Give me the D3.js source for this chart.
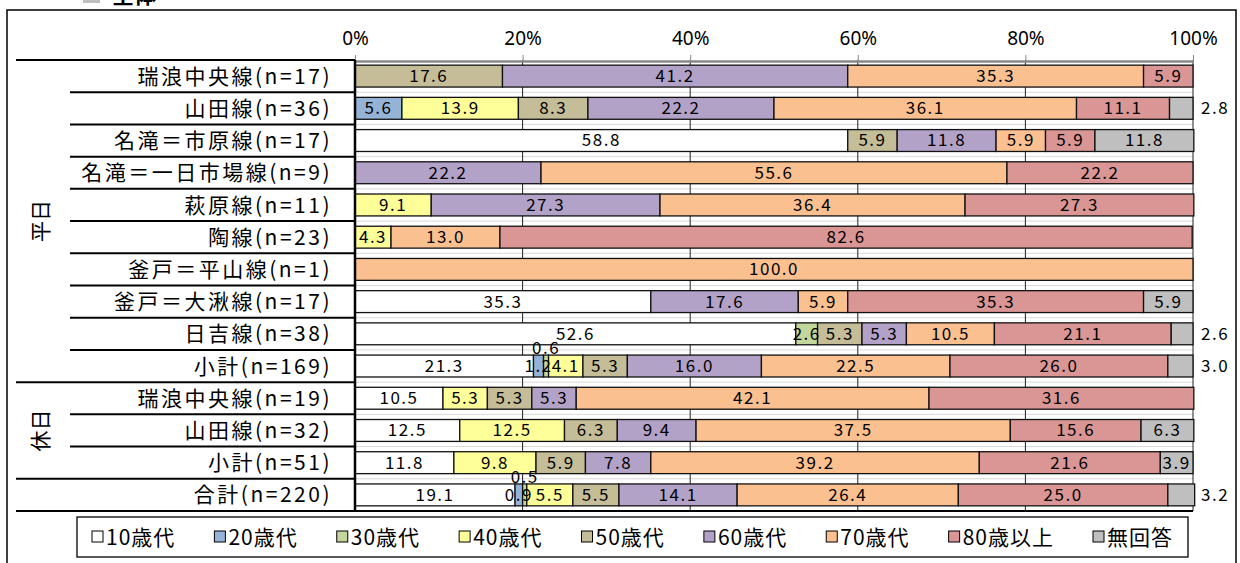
<!DOCTYPE html>
<html>
<head>
<meta charset="utf-8">
<script src="https://cdn.jsdelivr.net/npm/d3@7"></script>
<style>
  body { margin: 0; background: #fff; }
  svg { display: block; font-family: "Noto Sans CJK JP", "Noto Sans", sans-serif; }
</style>
</head>
<body>
<div id="chart"></div>
<script>

// age groups (stack order) and their fills
const ageGroups = ['10歳代', '20歳代', '30歳代', '40歳代', '50歳代', '60歳代', '70歳代', '80歳以上', '無回答'];
const ageColors = ['#ffffff', '#95b3d7', '#c3d69b', '#ffff99', '#c4bd97', '#b3a2c7', '#fac090', '#d99694', '#bfbfbf'];

const routeLabels = [
  '瑞浪中央線(n=17)', '山田線(n=36)', '名滝＝市原線(n=17)', '名滝＝一日市場線(n=9)', '萩原線(n=11)',
  '陶線(n=23)', '釜戸＝平山線(n=1)', '釜戸＝大湫線(n=17)', '日吉線(n=38)', '小計(n=169)',
  '瑞浪中央線(n=19)', '山田線(n=32)', '小計(n=51)', '合計(n=220)'
];
const dayTypes = ['平日', '平日', '平日', '平日', '平日', '平日', '平日', '平日', '平日', '平日', '休日', '休日', '休日', ''];

// % per age group, same order as ageGroups
const shares = [
  [0, 0, 0, 0, 17.6, 41.2, 35.3, 5.9, 0],
  [0, 5.6, 0, 13.9, 8.3, 22.2, 36.1, 11.1, 2.8],
  [58.8, 0, 0, 0, 5.9, 11.8, 5.9, 5.9, 11.8],
  [0, 0, 0, 0, 0, 22.2, 55.6, 22.2, 0],
  [0, 0, 0, 9.1, 0, 27.3, 36.4, 27.3, 0],
  [0, 0, 0, 4.3, 0, 0, 13.0, 82.6, 0],
  [0, 0, 0, 0, 0, 0, 100.0, 0, 0],
  [35.3, 0, 0, 0, 0, 17.6, 5.9, 35.3, 5.9],
  [52.6, 0, 2.6, 0, 5.3, 5.3, 10.5, 21.1, 2.6],
  [21.3, 1.2, 0.6, 4.1, 5.3, 16.0, 22.5, 26.0, 3.0],
  [10.5, 0, 0, 5.3, 5.3, 5.3, 42.1, 31.6, 0],
  [12.5, 0, 0, 12.5, 6.3, 9.4, 37.5, 15.6, 6.3],
  [11.8, 0, 0, 9.8, 5.9, 7.8, 39.2, 21.6, 3.9],
  [19.1, 0.9, 0.5, 5.5, 5.5, 14.1, 26.4, 25.0, 3.2]
];

const tickValues = [0, 20, 40, 60, 80, 100];

const W = 1240,
      H = 563;

const PLOT = { left: 355, right: 1193, top: 60, bottom: 511 };

const svg = d3.select('#chart').append('svg')
  .attr('width', W)
  .attr('height', H);

const x = d3.scaleLinear()
  .domain([0, 100])
  .range([PLOT.left, PLOT.right]);

const y = d3.scaleBand()
  .domain(d3.range(routeLabels.length))
  .range([PLOT.top, PLOT.bottom]);

const barH = y.bandwidth() * 0.68;
const fmt = d3.format('.1f');

// outer frame + cut-off heading
svg.append('rect')
  .attr('x', 7).attr('y', 10)
  .attr('width', 1229).attr('height', H)
  .attr('fill', 'none').attr('stroke', '#000').attr('stroke-width', 1.5);

svg.append('rect')
  .attr('x', 83).attr('y', -12).attr('width', 17).attr('height', 15)
  .attr('fill', '#bfbfbf');
svg.append('text')
  .attr('x', 112).attr('y', 3)
  .attr('font-size', 22).attr('font-weight', 'bold')
  .text('全体');

// faint row lines + grid
svg.append('g')
  .selectAll('line')
  .data(d3.range(1, routeLabels.length))
  .enter().append('line')
    .attr('x1', PLOT.left).attr('x2', PLOT.right)
    .attr('y1', (d) => y(d)).attr('y2', (d) => y(d))
    .attr('stroke', '#d9d9d9');

svg.append('g')
  .selectAll('line')
  .data(tickValues.slice(1))
  .enter().append('line')
    .attr('x1', (d) => x(d)).attr('x2', (d) => x(d))
    .attr('y1', PLOT.top).attr('y2', PLOT.bottom)
    .attr('stroke', '#222');

// axis on top
const axis = svg.append('g')
  .attr('transform', `translate(0, ${PLOT.top + 1})`)
  .call(d3.axisTop(x).tickValues(tickValues).tickFormat((d) => d + '%').tickSize(6).tickSizeOuter(0).tickPadding(10));

axis.select('.domain').attr('stroke', '#888').attr('stroke-width', 2.5);
axis.selectAll('.tick line').attr('stroke', '#888');
axis.selectAll('.tick text')
  .attr('font-size', 19)
  .attr('fill', '#000')
  .attr('font-family', '"Noto Sans", sans-serif');

// stacked segments
const rows = routeLabels.map((label, i) => {
  let acc = 0;
  return shares[i].map((v, j) => {
    const seg = { row: i, age: j, value: v, x0: acc, x1: acc + v, prev: j > 0 ? shares[i][j - 1] : 0 };
    acc += v;
    return seg;
  }).filter((s) => s.value > 0);
});
const segments = rows.flat();

svg.append('g')
  .selectAll('rect')
  .data(segments)
  .enter().append('rect')
    .attr('x', (d) => x(d.x0))
    .attr('y', (d) => y(d.row) + (y.bandwidth() - barH) / 2)
    .attr('width', (d) => x(d.x1) - x(d.x0))
    .attr('height', barH)
    .attr('fill', (d) => ageColors[d.age])
    .attr('stroke', '#111')
    .attr('stroke-width', 1.3);

// value labels: tiny trailing 無回答 goes outside, tiny stacked neighbours get lifted
svg.append('g')
  .selectAll('text')
  .data(segments)
  .enter().append('text')
    .attr('font-size', 17)
    .attr('letter-spacing', 1.5)
    .attr('dy', '0.35em')
    .attr('text-anchor', (d) => isOutside(d) ? 'start' : 'middle')
    .attr('x', (d) => isOutside(d) ? PLOT.right + 8 : (x(d.x0) + x(d.x1)) / 2)
    .attr('y', (d) => y(d.row) + y.bandwidth() / 2 - (isLifted(d) ? barH * 0.8 : 0))
    .text((d) => fmt(d.value));

function isOutside(d) {
  return d.age === ageGroups.length - 1 && (x(d.x1) - x(d.x0)) < 30;
}
function isLifted(d) {
  return d.value < 1 && d.prev > 0 && d.prev < 2;
}

// left table: labels + separators
svg.append('g')
  .selectAll('text')
  .data(routeLabels)
  .enter().append('text')
    .attr('x', 332)
    .attr('y', (d, i) => y(i) + y.bandwidth() / 2)
    .attr('dy', '0.36em')
    .attr('text-anchor', 'end')
    .attr('font-size', 21)
    .attr('letter-spacing', 2.5)
    .text((d) => d);

const groupEdges = d3.range(routeLabels.length + 1)
  .map((k) => ({ k, full: k === 0 || k === routeLabels.length || dayTypes[k] !== dayTypes[k - 1] }));

svg.append('g')
  .selectAll('line')
  .data(groupEdges)
  .enter().append('line')
    .attr('x1', (d) => d.full ? 16 : 70)
    .attr('x2', (d) => d.k === routeLabels.length ? PLOT.right : PLOT.left)
    .attr('y1', (d) => d.k === routeLabels.length ? PLOT.bottom : y(d.k))
    .attr('y2', (d) => d.k === routeLabels.length ? PLOT.bottom : y(d.k))
    .attr('stroke', '#000')
    .attr('stroke-width', 2);

svg.append('line')
  .attr('x1', PLOT.left).attr('x2', PLOT.left)
  .attr('y1', PLOT.top).attr('y2', PLOT.bottom)
  .attr('stroke', '#000').attr('stroke-width', 2.5);

// 平日 / 休日 rotated group labels
const dayGroups = d3.groups(dayTypes.map((t, i) => ({ t, i })).filter((d) => d.t), (d) => d.t)
  .map(([name, items]) => ({ name, from: items[0].i, to: items[items.length - 1].i }));

svg.append('g')
  .selectAll('text')
  .data(dayGroups)
  .enter().append('text')
    .attr('transform', (d) => `translate(40, ${(y(d.from) + y(d.to) + y.bandwidth()) / 2}) rotate(-90)`)
    .attr('text-anchor', 'middle')
    .attr('dy', '0.36em')
    .attr('font-size', 21)
    .text((d) => d.name);

// legend, items spread across the box
const LEG = { x: 77, y: 517, w: 1111, h: 40, pad: 15 };

svg.append('rect')
  .attr('x', LEG.x).attr('y', LEG.y)
  .attr('width', LEG.w).attr('height', LEG.h)
  .attr('fill', '#fff').attr('stroke', '#000').attr('stroke-width', 1.3);

const items = svg.append('g')
  .selectAll('g')
  .data(ageGroups)
  .enter().append('g');

items.append('rect')
  .attr('width', 11).attr('height', 11)
  .attr('y', -6)
  .attr('fill', (d, i) => ageColors[i])
  .attr('stroke', '#000');

items.append('text')
  .attr('x', 14)
  .attr('dy', '0.36em')
  .attr('font-size', 21)
  .attr('letter-spacing', 1)
  .text((d) => d);

const widths = [];
items.each(function () { widths.push(this.getBBox().width); });
const gap = (LEG.w - 2 * LEG.pad - d3.sum(widths)) / (widths.length - 1);
const offsets = widths.map((w, i) => d3.sum(widths.slice(0, i)) + i * gap);

items.attr('transform', (d, i) => `translate(${LEG.x + LEG.pad + offsets[i]}, ${LEG.y + LEG.h / 2})`);

</script>
</body>
</html>
